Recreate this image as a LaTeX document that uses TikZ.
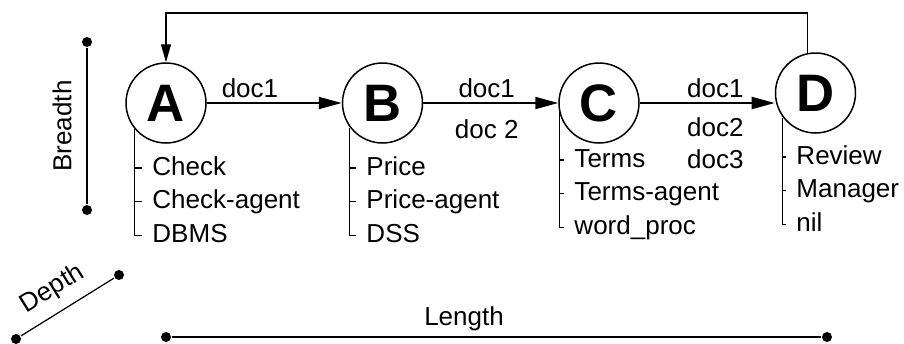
\documentclass[tikz,border=0pt]{standalone}
\usepackage{fontspec}
\setmainfont{Liberation Sans}
\usetikzlibrary{arrows.meta}
\usetikzlibrary{positioning}

\begin{document}
\begin{tikzpicture}[
	> = {Triangle[length=0.46cm, width=0.24cm]}, % arrow head style
	shorten > = 0pt, % arrow head touches the circle
	node distance = 2.7cm, % distance between agents
	font = \fontsize{14.8}{18}\selectfont,
	line width = 1.1pt % line style
	]
	
	\tikzstyle{agent}=[
	circle,
	draw = black,
	line width = 0.85pt,
	fill = white,
	minimum size = 1.6cm,
	inner sep = 0pt,
	font = \fontsize{30}{32}\selectfont\bfseries
	]
	\tikzstyle{role}=[text width=3.6cm, align=left, inner xsep=0.2cm, inner ysep=0pt,
	minimum height=0.64cm, text height=0.38cm, text depth=0.1cm]
	\tikzstyle{rolebar}=[line width=0.6pt]
	\tikzstyle{doc}=[inner sep=2.5pt]
	\tikzstyle{dot}=[circle, fill=black, inner sep=0pt, minimum size=0.2cm]
	\tikzstyle{dimline}=[line width=0.7pt]
	
	\useasboundingbox (0,0) rectangle (18.08,6.86);
	
	\node[agent] (A) at (3.32,4.8) {A};
	\node[agent] (B) [right=of A] {B};
	\node[agent] (C) [right=of B] {C};
	\node[agent] (D) [right=of C, yshift=0.2cm] {D};
	
	% roles of each agent
	\node[role, anchor=west] (a1) at (2.83,3.5) {Check};
	\node[role] (a2) [below=0pt of a1] {Check-agent};
	\node[role] (a3) [below=0pt of a2] {DBMS};
	\node[role, anchor=west] (b1) at (7.11,3.5) {Price};
	\node[role] (b2) [below=0pt of b1] {Price-agent};
	\node[role] (b3) [below=0pt of b2] {DSS};
	\node[role, anchor=west] (c1) at (11.27,3.66) {Terms};
	\node[role] (c2) [below=0pt of c1] {Terms-agent};
	\node[role] (c3) [below=0pt of c2] {word\_proc};
	\node[role, anchor=west] (d1) at (15.71,3.72) {Review};
	\node[role] (d2) [below=0pt of d1] {Manager};
	\node[role] (d3) [below=0pt of d2] {nil};
	
	\draw[rolebar] (A.219) |- (a3.west);
	\draw[rolebar] (a1.west -| A.219) -- (a1.west);
	\draw[rolebar] (a2.west -| A.219) -- (a2.west);
	\draw[rolebar] (B.217) |- (b3.west);
	\draw[rolebar] (b1.west -| B.217) -- (b1.west);
	\draw[rolebar] (b2.west -| B.217) -- (b2.west);
	\draw[rolebar] (C.193) |- (c3.west);
	\draw[rolebar] (c1.west -| C.193) -- (c1.west);
	\draw[rolebar] (c2.west -| C.193) -- (c2.west);
	\draw[rolebar] (D.217) |- (d3.west);
	\draw[rolebar] (d1.west -| D.217) -- (d1.west);
	\draw[rolebar] (d2.west -| D.217) -- (d2.west);
	
	% documents passed on
	\path[->] (A) edge node[doc, above, pos=0.32] {doc1} (B);
	\path[->] (B) edge node[doc, above, pos=0.47] {doc1}
	node[doc, below=0.22cm, pos=0.47] {doc 2} (C);
	\path[->] (C) edge node[doc, above, pos=0.56] {doc1}
	node[doc, below=0.19cm, pos=0.56, align=center] {doc2\\doc3} (D.west |- C);
	
	% back to the start
	\coordinate (top) at (0,6.6);
	\draw[rolebar, -{Triangle[length=0.36cm, width=0.2cm]}] (D.102) |- (A.north |- top) -- (A.north);
	
	% dimensions
	\node[dot] (br1) at (1.74,2.66) {};
	\node[dot] (br2) at (1.74,6.02) {};
	\node[dot] (dp1) at (0.32,0.08) {};
	\node[dot] (dp2) at (2.38,1.36) {};
	\node[dot] (ln1) at (3.32,0.12) {};
	\node[dot] (ln2) at (16.54,0.12) {};
	\draw[dimline] (br1) -- node[above=0.18cm, sloped] {Breadth} (br2);
	\draw[dimline] (dp1) -- node[above=0.09cm, sloped, pos=0.47] {Depth} (dp2);
	\draw[dimline] (ln1) -- node[above=0cm, pos=0.45] {Length} (ln2);
	
\end{tikzpicture}
\end{document}
